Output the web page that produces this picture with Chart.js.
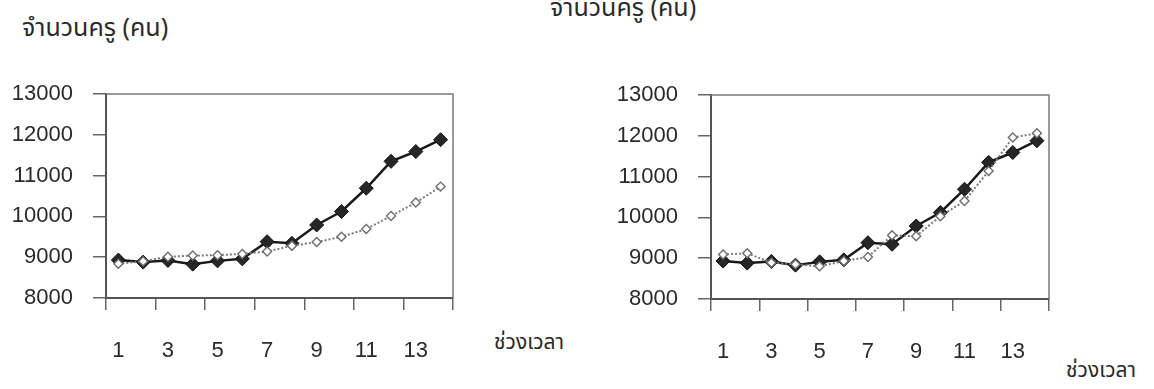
<!DOCTYPE html>
<html>
<head>
<meta charset="utf-8">
<script src="https://cdn.jsdelivr.net/npm/chart.js@4.4.1/dist/chart.umd.min.js"></script>
<style>
  html, body { margin: 0; padding: 0; background: #fff; width: 1154px; height: 389px; overflow: hidden; }
  body { position: relative; color: #222; }
  .pane { position: absolute; }
  .txt { position: absolute; white-space: nowrap; line-height: 1;
         font-family: "Noto Sans Thai", "Noto Sans Thai Looped", "Loma", "Garuda", "Tlwg Typo", "Noto Sans", sans-serif;
         color: #2a2a2a; }
  .ttl { font-size: 25px; }
  .per { font-size: 21px; }
</style>
</head>
<body>
<div class="txt ttl" style="left:22px; top:16px;">จำนวนครู (คน)</div>
<div class="txt ttl" style="left:550px; top:-4px;">จำนวนครู (คน)</div>
<div class="txt per" style="left:494px; top:332px;">ช่วงเวลา</div>
<div class="txt per" style="left:1066px; top:360px;">ช่วงเวลา</div>

<div class="pane" style="left:0; top:80px;"><canvas id="left" width="480" height="309"></canvas></div>
<div class="pane" style="left:600px; top:80px;"><canvas id="right" width="554" height="309"></canvas></div>

<script>
// time periods 1..14 and the labels shown under the axis
const periods = [1, 2, 3, 4, 5, 6, 7, 8, 9, 10, 11, 12, 13, 14];
const tickLabels = ['1', '3', '5', '7', '9', '11', '13'];

// observed number of teachers
const actualTeachers = [8930, 8880, 8920, 8830, 8910, 8960, 9380, 9340, 9790, 10120, 10690, 11350, 11590, 11880];
// fitted values, model on the left
const fittedLeft = [8840, 8900, 9010, 9040, 9050, 9080, 9140, 9280, 9370, 9500, 9690, 10010, 10340, 10730];
// fitted values, model on the right
const fittedRight = [9090, 9120, 8890, 8850, 8800, 8930, 9030, 9560, 9540, 10030, 10400, 11140, 11960, 12060];

const yTicks = [8000, 9000, 10000, 11000, 12000, 13000];

const numFont = { family: '"Liberation Sans", Arial, sans-serif', size: 22 };

// plot frame on top and right sides
const framePlugin = {
  id: 'frame',
  afterDraw(chart) {
    const { ctx, chartArea: a } = chart;
    ctx.save();
    ctx.strokeStyle = '#7a7a7a';
    ctx.lineWidth = 1.5;
    ctx.beginPath();
    ctx.moveTo(a.left, a.top);
    ctx.lineTo(a.right, a.top);
    ctx.lineTo(a.right, a.bottom);
    ctx.stroke();
    ctx.restore();
  }
};

function noEdgePadding(s) {
  s.paddingTop = 0; s.paddingBottom = 0; s.paddingLeft = 0; s.paddingRight = 0;
}

function build(canvasId, fitted, yWidth, xHeight, padding) {
  return new Chart(document.getElementById(canvasId), {
    type: 'line',
    data: {
      labels: periods.map(String),
      datasets: [
        {
          data: fitted,
          borderColor: '#7a7a7a',
          borderWidth: 2,
          borderDash: [2, 2],
          pointStyle: 'rectRot',
          pointRadius: 4.5,
          pointBackgroundColor: '#ffffff',
          pointBorderColor: '#6e6e6e',
          pointBorderWidth: 1.4,
          tension: 0
        },
        {
          data: actualTeachers,
          borderColor: '#1a1a1a',
          borderWidth: 2.5,
          pointStyle: 'rectRot',
          pointRadius: 7,
          pointBackgroundColor: '#262626',
          pointBorderColor: '#111111',
          pointBorderWidth: 1,
          tension: 0
        }
      ]
    },
    options: {
      responsive: false,
      animation: false,
      events: [],
      layout: { padding: padding },
      plugins: { legend: { display: false }, tooltip: { enabled: false }, title: { display: false } },
      scales: {
        x: {
          type: 'category',
          offset: true,
          grid: {
            offset: true,
            drawOnChartArea: false,
            drawTicks: true,
            tickLength: 12,
            lineWidth: 1.5,
            color: (c) => (c.index === undefined || c.index % 2 === 0) ? '#666666' : 'rgba(0,0,0,0)'
          },
          border: { display: true, color: '#555555', width: 2 },
          ticks: {
            autoSkip: false,
            maxRotation: 0,
            minRotation: 0,
            padding: 28,
            color: '#2a2a2a',
            font: numFont,
            callback: function (v) {
              const lab = this.getLabelForValue(v);
              return tickLabels.includes(lab) ? lab : '';
            }
          },
          afterFit: (s) => { s.height = xHeight; noEdgePadding(s); }
        },
        y: {
          min: yTicks[0],
          max: yTicks[yTicks.length - 1],
          afterBuildTicks: (s) => { s.ticks = yTicks.map(v => ({ value: v })); },
          grid: { drawOnChartArea: false, drawTicks: true, tickLength: 13, lineWidth: 1.5, color: '#666666' },
          border: { display: true, color: '#555555', width: 2 },
          ticks: { padding: 20, color: '#2a2a2a', font: numFont, callback: (v) => String(v) },
          afterFit: (s) => { s.width = yWidth; noEdgePadding(s); }
        }
      }
    },
    plugins: [framePlugin]
  });
}

build('left', fittedLeft, 106, 91, { top: 14, right: 27, left: 0, bottom: 0 });
build('right', fittedRight, 111, 90, { top: 15, right: 105, left: 0, bottom: 0 });
</script>
</body>
</html>
